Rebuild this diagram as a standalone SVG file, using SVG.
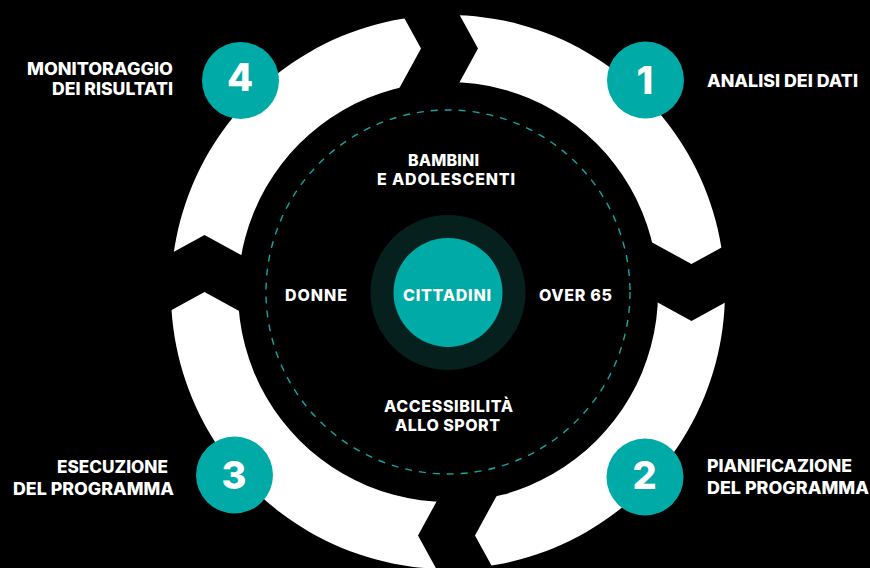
<svg xmlns="http://www.w3.org/2000/svg" width="870" height="568" viewBox="0 0 870 568">
<defs>
<style>
.lbl{font-family:Inter,"Liberation Sans",sans-serif;font-weight:800;font-size:17px;fill:#fff}
.cl{font-family:Inter,"Liberation Sans",sans-serif;font-weight:800;font-size:16px;fill:#fff}
.dig{font-family:Inter,"Liberation Sans",sans-serif;font-weight:800;font-size:38px;fill:#fff;text-anchor:middle}
.teal{fill:#00aaa6}
.gap{fill:#000}
</style>
<polygon id="gapShape" points="-58,-300 -27,-243.5 -59,-185 -2,-185 30,-243.5 -1,-300"/>
</defs>
<rect width="870" height="568" fill="#000"/>
<g id="ring">
<path d="M448,15 A277,277 0 1 1 447.9,15 Z M448,82 A210,210 0 1 0 448.1,82 Z" fill="#fff" fill-rule="evenodd"/>
<use href="#gapShape" class="gap" transform="translate(448,292)"/>
<use href="#gapShape" class="gap" transform="translate(448,291) rotate(90)"/>
<use href="#gapShape" class="gap" transform="translate(448,292) rotate(180)"/>
<use href="#gapShape" class="gap" transform="translate(448,265) rotate(270)"/>
</g>
<g id="connectors">
<circle cx="448" cy="292" r="182" fill="none" stroke="#14a6a2" stroke-width="1.4" stroke-dasharray="7 7"/>
</g>
<g id="center">
<circle cx="448" cy="292.5" r="77.5" fill="#06201e"/>
<circle cx="448" cy="292.5" r="54.5" class="teal"/>
<text class="cl" x="403" y="301" textLength="88">CITTADINI</text>
</g>
<g id="bambini"><text class="cl" x="408" y="166" textLength="71">BAMBINI</text><text class="cl" x="377" y="185" textLength="138">E ADOLESCENTI</text></g>
<g id="donne"><text class="cl" x="285" y="301" textLength="62">DONNE</text></g>
<g id="over65"><text class="cl" x="539" y="301" textLength="73">OVER 65</text></g>
<g id="accessibilita"><text class="cl" x="384" y="412" textLength="129">ACCESSIBILITÀ</text><text class="cl" x="395" y="431" textLength="105">ALLO SPORT</text></g>
<g id="step1">
<circle cx="645.5" cy="80" r="38.5" class="teal"/>
<text class="dig" x="645" y="94">1</text>
<text class="lbl" x="707" y="87" textLength="151" lengthAdjust="spacingAndGlyphs">ANALISI DEI DATI</text>
</g>
<g id="step2">
<circle cx="645" cy="477" r="38.5" class="teal"/>
<text class="dig" x="644.5" y="489">2</text>
<text class="lbl" x="707" y="472" textLength="145" lengthAdjust="spacingAndGlyphs">PIANIFICAZIONE</text>
<text class="lbl" x="707" y="494" textLength="162" lengthAdjust="spacingAndGlyphs">DEL PROGRAMMA</text>
</g>
<g id="step3">
<circle cx="234.5" cy="475" r="38.5" class="teal"/>
<text class="dig" x="234" y="489">3</text>
<text class="lbl" x="57" y="473" textLength="111" lengthAdjust="spacingAndGlyphs">ESECUZIONE</text>
<text class="lbl" x="13" y="495" textLength="161" lengthAdjust="spacingAndGlyphs">DEL PROGRAMMA</text>
</g>
<g id="step4">
<circle cx="240.5" cy="80.5" r="38.5" class="teal"/>
<text class="dig" x="240" y="91">4</text>
<text class="lbl" x="27" y="75" textLength="146" lengthAdjust="spacingAndGlyphs">MONITORAGGIO</text>
<text class="lbl" x="52" y="95" textLength="121" lengthAdjust="spacingAndGlyphs">DEI RISULTATI</text>
</g>
</svg>
